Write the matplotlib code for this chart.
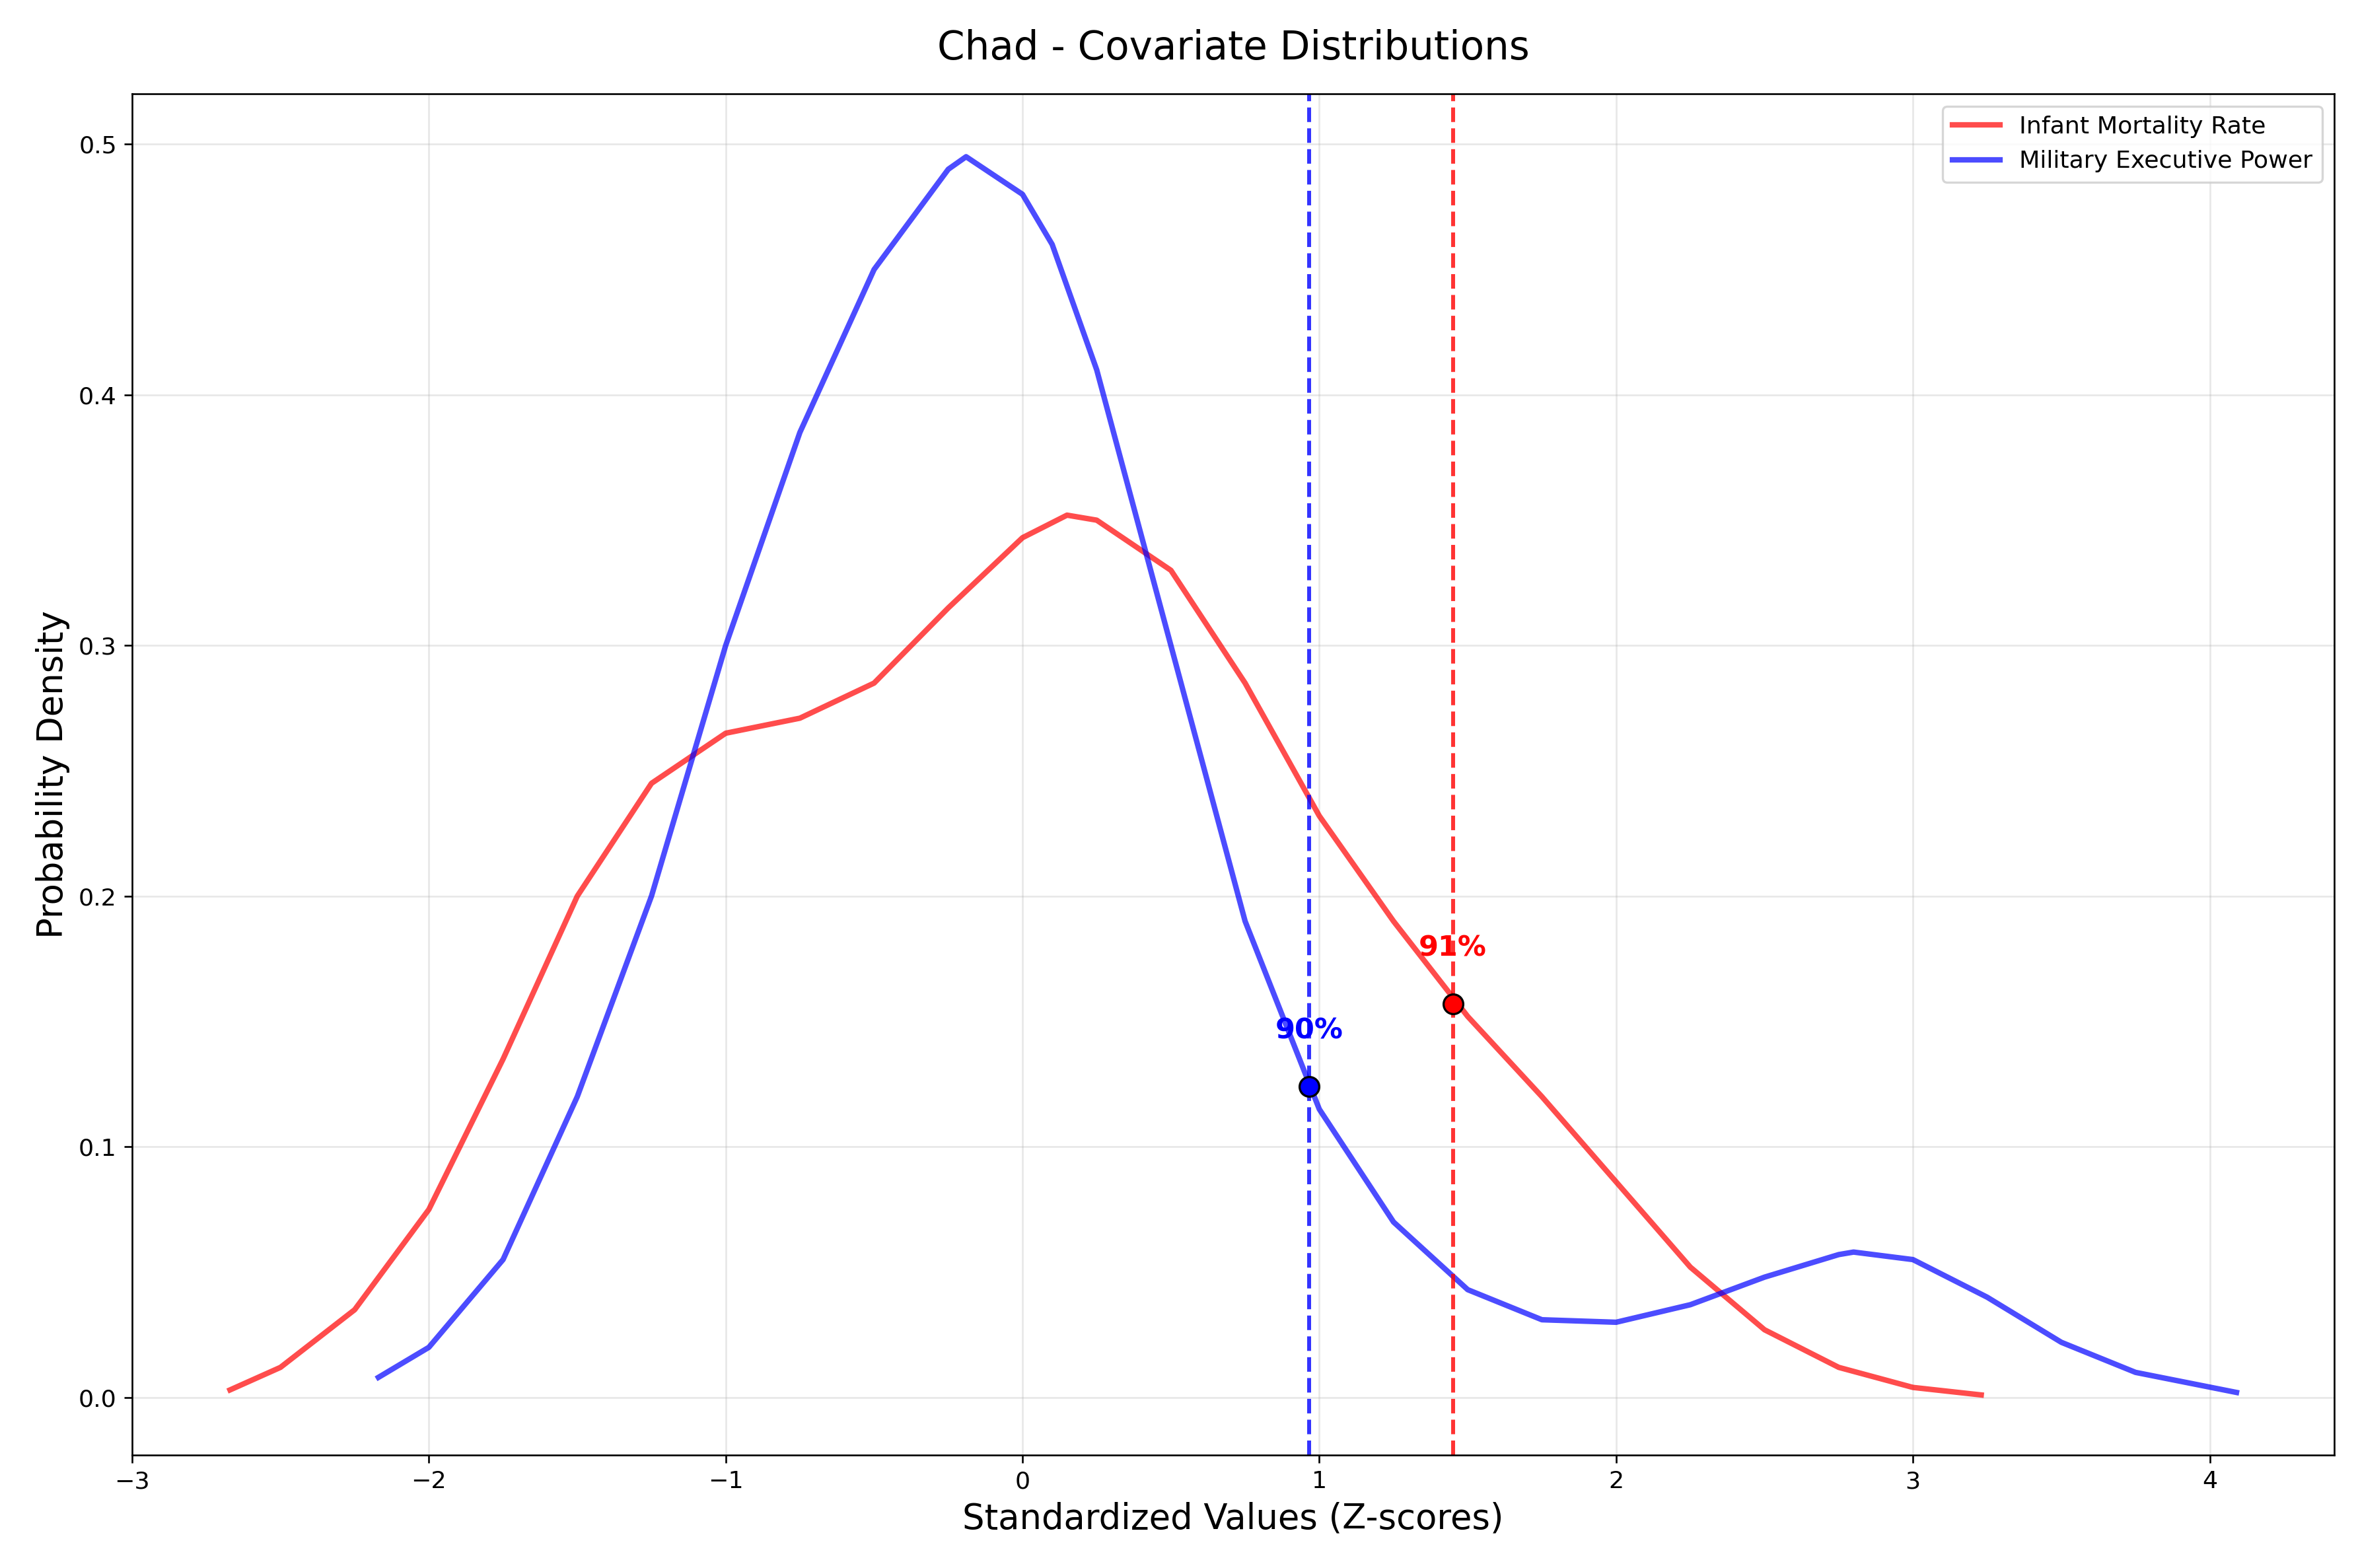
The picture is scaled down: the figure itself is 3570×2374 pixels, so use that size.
import numpy as np
import matplotlib.pyplot as plt

# density curves
imr_x = [-2.67, -2.5, -2.25, -2.0, -1.75, -1.5, -1.25, -1.0, -0.75, -0.5, -0.25, 0.0, 0.15,
         0.25, 0.5, 0.75, 1.0, 1.25, 1.5, 1.75, 2.0, 2.25, 2.5, 2.75, 3.0, 3.23]
imr_y = [0.003, 0.012, 0.035, 0.075, 0.135, 0.200, 0.245, 0.265, 0.271, 0.285, 0.315, 0.343, 0.352,
         0.350, 0.330, 0.285, 0.232, 0.190, 0.152, 0.120, 0.086, 0.052, 0.027, 0.012, 0.004, 0.001]

mil_x = [-2.17, -2.0, -1.75, -1.5, -1.25, -1.0, -0.75, -0.5, -0.25, -0.19, 0.0, 0.1, 0.25, 0.5,
         0.75, 0.97, 1.0, 1.25, 1.5, 1.75, 2.0, 2.25, 2.5, 2.75, 2.8, 3.0, 3.25, 3.5, 3.75, 4.09]
mil_y = [0.008, 0.020, 0.055, 0.120, 0.200, 0.300, 0.385, 0.450, 0.490, 0.495, 0.480, 0.460, 0.410, 0.300,
         0.190, 0.124, 0.115, 0.070, 0.043, 0.031, 0.030, 0.037, 0.048, 0.057, 0.058, 0.055, 0.040, 0.022, 0.010, 0.002]

names = ['Infant Mortality Rate', 'Military Executive Power']
colors = ['red', 'blue']
marker_x = [1.45, 0.965]
marker_y = [0.157, 0.124]
pct_labels = ['91%', '90%']

fig, ax = plt.subplots(figsize=(15, 9.975), dpi=238)
fig.subplots_adjust(left=0.056, right=0.99, top=0.94, bottom=0.072)

for xs, ys, name, c in zip([imr_x, mil_x], [imr_y, mil_y], names, colors):
    ax.plot(xs, ys, color=c, lw=2.5, alpha=0.7, label=name)

for mx, my, lab, c in zip(marker_x, marker_y, pct_labels, colors):
    ax.axvline(mx, color=c, ls='--', lw=1.8, alpha=0.8)
    ax.plot(mx, my, 'o', color=c, markeredgecolor='black', markersize=9, zorder=5)
    ax.annotate(lab, (mx, my), xytext=(0, 22), textcoords='offset points',
                ha='center', color=c, fontweight='bold', fontsize=13)

ax.set_xlim(-3, 4.42)
ax.set_ylim(-0.023, 0.52)
ax.grid(alpha=0.3)
ax.tick_params(labelsize=11)
ax.set_title('Chad - Covariate Distributions', fontsize=18, pad=16)
ax.set_xlabel('Standardized Values (Z-scores)', fontsize=16)
ax.set_ylabel('Probability Density', fontsize=16)
ax.legend(loc='upper right', fontsize=11)

fig.savefig('out.png')
